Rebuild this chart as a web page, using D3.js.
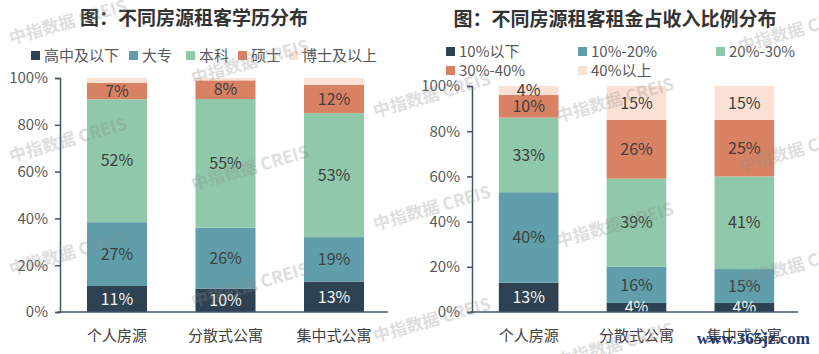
<!DOCTYPE html>
<html>
<head>
<meta charset="utf-8">
<script src="https://cdn.jsdelivr.net/npm/d3@7"></script>
<style>
  html, body { margin: 0; padding: 0; background: #fff; }
  svg { display: block; font-family: "Noto Sans CJK SC", "Noto Sans", sans-serif; }
</style>
</head>
<body>
<svg id="chart" width="819" height="354"></svg>
<script>
// categories shared by both charts
const categories = ["个人房源", "分散式公寓", "集中式公寓"];
const yTicks = [0, 20, 40, 60, 80, 100];

// left chart: education of tenants (%)
const eduSeries = ["高中及以下", "大专", "本科", "硕士", "博士及以上"];
const eduHighSchool = [11, 10, 13];
const eduCollege = [27, 26, 19];
const eduBachelor = [52, 55, 53];
const eduMaster = [7, 8, 12];
const eduDoctor = [2, 1, 3];

// right chart: rent share of income (%)
const rentSeries = ["10%以下", "10%-20%", "20%-30%", "30%-40%", "40%以上"];
const rentBelow10 = [13, 4, 4];
const rent10to20 = [40, 16, 15];
const rent20to30 = [33, 39, 41];
const rent30to40 = [10, 26, 25];
const rentAbove40 = [4, 15, 15];

const colors = ["#2d4353", "#5f9eaa", "#90c8ab", "#d88263", "#fbe1d4"];
const axisColor = "#44546a";
const textColor = "#595959";

const svg = d3.select("#chart");

function drawChart(opt) {
    const g = svg.append("g");
    const rows = categories.map((c, i) => {
        const row = { cat: c };
        opt.series.forEach((s, j) => row[s] = opt.values[j][i]);
        return row;
    });

    const stack = d3.stack().keys(opt.series).offset(d3.stackOffsetExpand);
    const layers = stack(rows);

    const x = d3.scaleBand().domain(categories).range(opt.xRange)
        .paddingInner(0.447).paddingOuter(0.221);
    const y = d3.scaleLinear().domain([0, 1]).range(opt.yRange);

    // title
    g.append("text")
        .attr("x", opt.titleX).attr("y", opt.titleY)
        .attr("text-anchor", "middle")
        .style("font-size", "19px").style("font-weight", "bold")
        .style("fill", "#333")
        .text(opt.title);

    // bars
    const layer = g.selectAll(".layer").data(layers).join("g")
        .attr("fill", (d, i) => colors[i]);

    layer.selectAll("rect").data(d => d).join("rect")
        .attr("x", d => x(d.data.cat))
        .attr("width", x.bandwidth())
        .attr("y", d => y(d[1]))
        .attr("height", d => y(d[0]) - y(d[1]));

    // value labels
    layers.forEach((l, i) => {
        if (!opt.showLabel[i]) return;
        g.selectAll(null).data(l).join("text")
            .attr("x", d => x(d.data.cat) + x.bandwidth() / 2)
            .attr("y", d => (y(d[0]) + y(d[1])) / 2)
            .attr("dy", "0.36em")
            .attr("text-anchor", "middle")
            .style("font-size", "16px")
            .style("fill", i === 0 ? "#f2f2f2" : "#404040")
            .text(d => d.data[l.key] + "%");
    });

    // y axis
    const yAxis = d3.axisLeft(y)
        .tickValues(yTicks.map(t => t / 100))
        .tickFormat(d => Math.round(d * 100) + "%")
        .tickSize(5).tickPadding(7);
    const ya = g.append("g").attr("transform", `translate(${opt.xRange[0] - 3},0)`).call(yAxis);
    ya.select(".domain").attr("stroke", axisColor).attr("stroke-width", 1.5);
    ya.selectAll(".tick line").attr("stroke", axisColor).attr("stroke-width", 1.5);
    ya.selectAll(".tick text").style("font-size", "15px").style("fill", textColor)
        .style("font-family", "'Noto Sans CJK SC', sans-serif");

    // baseline + category labels
    const xAxis = d3.axisBottom(x).tickSize(0).tickPadding(18);
    const xa = g.append("g").attr("transform", `translate(0,${opt.yRange[0]})`).call(xAxis);
    xa.select(".domain").attr("stroke", axisColor).attr("stroke-width", 1.5)
        .attr("d", `M${opt.xRange[0] - 5},0H${opt.xRange[1]}`);
    xa.selectAll(".tick text").style("font-size", "15px").style("fill", "#404040")
        .style("font-family", "'Noto Sans CJK SC', sans-serif");

    // legend
    opt.legend.forEach((p, i) => {
        const lg = g.append("g").attr("transform", `translate(${p[0]},${p[1]})`);
        lg.append("rect").attr("x", 0).attr("y", -5).attr("width", 9).attr("height", 9)
            .attr("fill", colors[i]);
        lg.append("text").attr("x", 13).attr("y", 0).attr("dy", "0.35em")
            .style("font-size", "15px").style("fill", textColor)
            .text(opt.series[i]);
    });
}

drawChart({
    title: "图：不同房源租客学历分布",
    titleX: 194, titleY: 25,
    series: eduSeries,
    values: [eduHighSchool, eduCollege, eduBachelor, eduMaster, eduDoctor],
    showLabel: [true, true, true, true, false],
    xRange: [63, 388],
    yRange: [312, 78],
    legend: [[31, 56], [129, 56], [186, 56], [238, 56], [289, 56]]
});

drawChart({
    title: "图：不同房源租客租金占收入比例分布",
    titleX: 615, titleY: 26,
    series: rentSeries,
    values: [rentBelow10, rent10to20, rent20to30, rent30to40, rentAbove40],
    showLabel: [true, true, true, true, true],
    xRange: [475, 798],
    yRange: [312, 86],
    legend: [[446, 52], [578, 52], [716, 52], [446, 71], [578, 71]]
});

// watermarks
const marks = [
    [68, 22], [250, 62], [68, 140], [250, 168], [68, 253], [250, 285],
    [432, 95], [432, 208], [432, 320], [615, 100], [615, 225], [615, 345],
    [250, 395], [797, 30], [797, 150], [797, 265]
];
svg.append("g").selectAll("text").data(marks).join("text")
    .attr("transform", d => `translate(${d[0]},${d[1]}) rotate(-16)`)
    .attr("text-anchor", "middle")
    .attr("dy", "0.35em")
    .style("font-size", "17px").style("font-weight", "bold")
    .style("fill", "#8c8c8c").style("opacity", 0.28)
    .text("中指数据  CREIS");

svg.append("text")
    .attr("x", 810).attr("y", 344)
    .attr("text-anchor", "end")
    .style("font-family", "'Liberation Serif', serif")
    .style("font-size", "17px").style("font-weight", "bold")
    .style("fill", "#1f3a70")
    .text("www.365jz.com");
</script>
</body>
</html>
